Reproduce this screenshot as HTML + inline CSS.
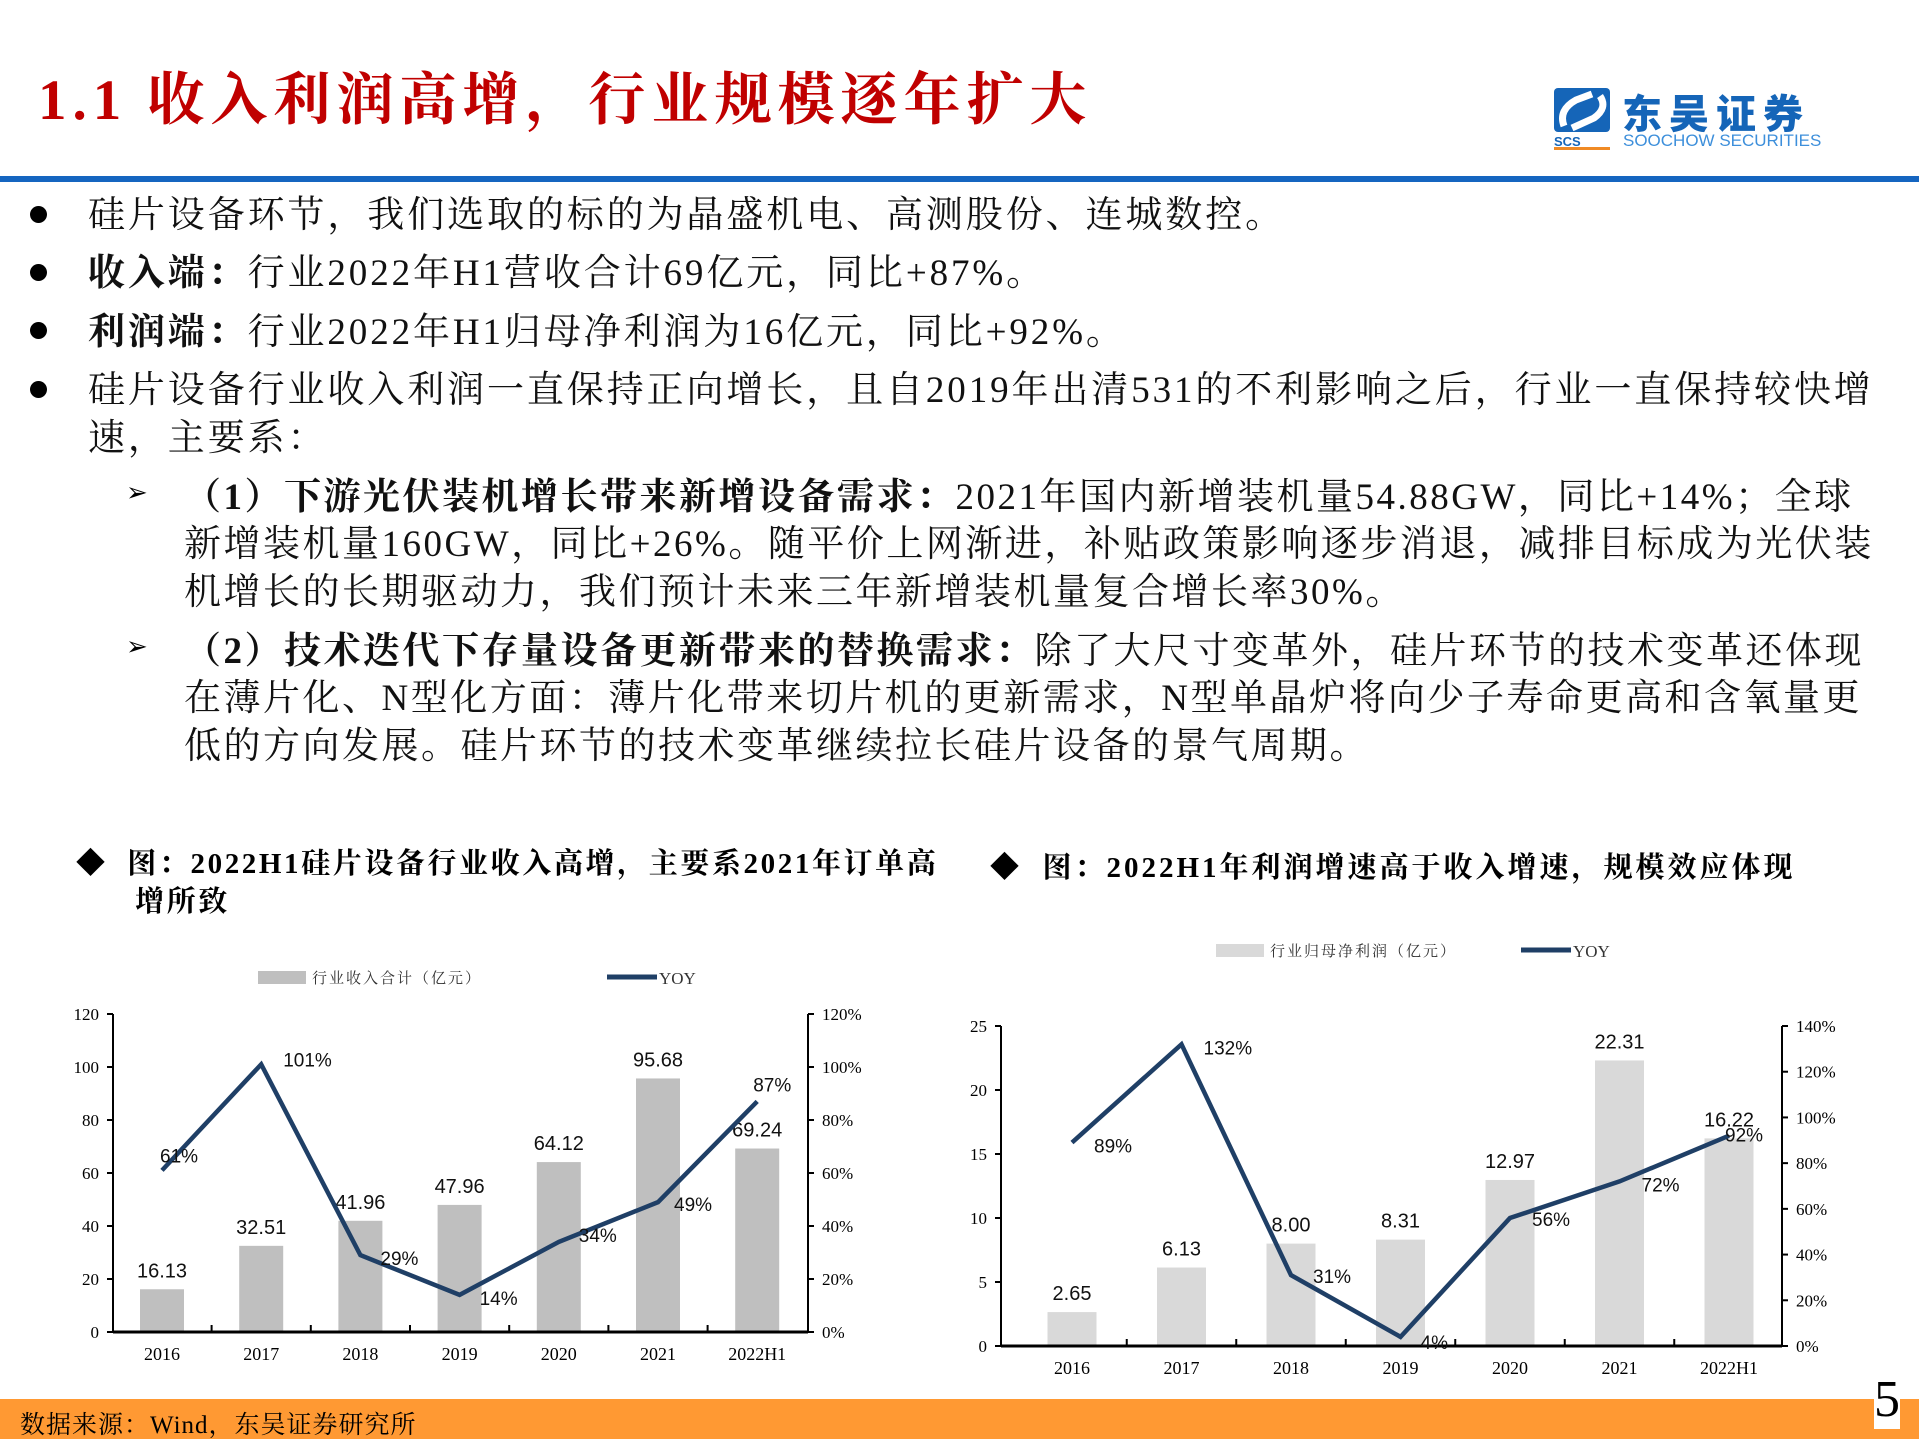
<!DOCTYPE html>
<html><head><meta charset="utf-8"><style>
body{margin:0;width:1919px;height:1439px;position:relative;background:#fff;overflow:hidden;font-family:"Liberation Serif","Noto Serif CJK SC",serif;}
.a{position:absolute;white-space:nowrap;}
.t{font-size:37px;color:#111;letter-spacing:2.9px;}
.s{letter-spacing:2.5px;}
.dot{position:absolute;width:17px;height:17px;border-radius:50%;background:#000;}
</style></head><body>
<div class="a" style="left:38px;top:54px;font-size:57px;font-weight:bold;color:#C00000;letter-spacing:6px;">1.1 收入利润高增，行业规模逐年扩大</div>
<div class="a" style="left:1554px;top:88px;width:270px;height:62px;">
 <svg width="60" height="62" style="position:absolute;left:0;top:0"><rect x="0" y="0" width="56" height="44" rx="4" fill="#1565B8"/><path d="M10 38 Q4 22 22 12 L38 6 M18 40 L40 30 Q54 20 46 8" stroke="#fff" stroke-width="7" fill="none"/><text x="0" y="58" font-family="Liberation Sans" font-weight="bold" font-size="13" fill="#1565B8">SCS</text><rect x="0" y="59" width="56" height="3" fill="#F08A24"/></svg>
 <div class="a" style="left:68px;top:-6px;font-family:'Liberation Sans','Noto Sans CJK SC',sans-serif;font-weight:900;font-size:40px;color:#1565B8;letter-spacing:7px;">东吴证券</div>
 <div class="a" style="left:69px;top:43px;font-family:'Liberation Sans',sans-serif;font-size:17px;color:#3D8FDB;">SOOCHOW SECURITIES</div>
</div>
<div class="a" style="left:0;top:176px;width:1919px;height:6px;background:#1565C0;"></div>

<div class="dot" style="left:30px;top:206px"></div>
<div class="a t" style="left:88px;top:184px;">硅片设备环节，我们选取的标的为晶盛机电、高测股份、连城数控。</div>
<div class="dot" style="left:30px;top:264px"></div>
<div class="a t" style="left:88px;top:242px;"><b>收入端：</b>行业2022年H1营收合计69亿元，同比+87%。</div>
<div class="dot" style="left:30px;top:322px"></div>
<div class="a t" style="left:88px;top:301px;"><b>利润端：</b>行业2022年H1归母净利润为16亿元，同比+92%。</div>
<div class="dot" style="left:30px;top:381px"></div>
<div class="a t" style="left:88px;top:359px;">硅片设备行业收入利润一直保持正向增长，且自2019年出清531的不利影响之后，行业一直保持较快增</div>
<div class="a t" style="left:88px;top:407px;">速，主要系：</div>
<div class="a" style="left:126px;top:478px;font-size:26px;">➢</div>
<div class="a t s" style="left:184px;top:466px;"><b>（1）下游光伏装机增长带来新增设备需求：</b>2021年国内新增装机量54.88GW，同比+14%；全球</div>
<div class="a t s" style="left:184px;top:513px;">新增装机量160GW，同比+26%。随平价上网渐进，补贴政策影响逐步消退，减排目标成为光伏装</div>
<div class="a t s" style="left:184px;top:561px;">机增长的长期驱动力，我们预计未来三年新增装机量复合增长率30%。</div>
<div class="a" style="left:126px;top:632px;font-size:26px;">➢</div>
<div class="a t s" style="left:184px;top:620px;"><b>（2）技术迭代下存量设备更新带来的替换需求：</b>除了大尺寸变革外，硅片环节的技术变革还体现</div>
<div class="a t s" style="left:184px;top:667px;">在薄片化、N型化方面：薄片化带来切片机的更新需求，N型单晶炉将向少子寿命更高和含氧量更</div>
<div class="a t s" style="left:184px;top:715px;">低的方向发展。硅片环节的技术变革继续拉长硅片设备的景气周期。</div>

<div class="a" style="left:76px;top:845px;font-size:29px;font-weight:bold;line-height:38px;letter-spacing:2.6px;">◆&nbsp;&nbsp;图：2022H1硅片设备行业收入高增，主要系2021年订单高<br>&nbsp;&nbsp;&nbsp;&nbsp;&nbsp;&nbsp;增所致</div>
<div class="a" style="left:990px;top:845px;font-size:29px;font-weight:bold;letter-spacing:3px;">◆&nbsp;&nbsp;图：2022H1年利润增速高于收入增速，规模效应体现</div>

<svg id="c1" class="a" style="left:0;top:940px" width="960" height="420"></svg>
<svg id="c2" class="a" style="left:960px;top:920px" width="959" height="480"></svg>

<div class="a" style="left:0;top:1399px;width:1919px;height:40px;background:#FF9933;"></div>
<div class="a" style="left:20px;top:1405px;font-size:25px;letter-spacing:1px;">数据来源：Wind，东吴证券研究所</div>
<div class="a" style="left:1874px;top:1370px;font-size:52px;background:#fff;">5</div>

<script>
const cats = ["2016","2017","2018","2019","2020","2021","2022H1"];
const revenue = [16.13,32.51,41.96,47.96,64.12,95.68,69.24];
const revenueYoy = [61,101,29,14,34,49,87];
const revTicksL = [0,20,40,60,80,100,120];
const revTicksR = [0,20,40,60,80,100,120];
const profit = [2.65,6.13,8.00,8.31,12.97,22.31,16.22];
const profitYoy = [89,132,31,4,56,72,92];
const proTicksL = [0,5,10,15,20,25];
const proTicksR = [0,20,40,60,80,100,120,140];
const NS="http://www.w3.org/2000/svg";
function el(svg,tag,at,txt){const e=document.createElementNS(NS,tag);for(const k in at)e.setAttribute(k,at[k]);if(txt!==undefined)e.textContent=txt;svg.appendChild(e);return e;}
function chart(id,o){
 const s=document.getElementById(id);
 const yL=v=>o.y0-(v/o.maxL)*(o.y0-o.yTop);
 const yR=v=>o.y0-(v/o.maxR)*(o.y0-o.yTop);
 const step=o.step;
 const cx=i=>o.c0+step*i;
 let r=el(s,'rect',{x:o.lg[0],y:o.lg[1]-6,width:48,height:13,fill:o.bar});
 
 el(s,'text',{x:o.lg[0]+54,y:o.lg[1]+6,'font-size':15,'letter-spacing':2,'font-family':'Liberation Serif,Noto Serif CJK SC,serif',fill:'#333'},o.lgText);
 el(s,'line',{x1:o.lg[2],x2:o.lg[2]+50,y1:o.lg[1],y2:o.lg[1],stroke:'#1F3F66','stroke-width':5});
 el(s,'text',{x:o.lg[2]+52,y:o.lg[1]+7,'font-size':17,'font-family':'Liberation Serif,serif',fill:'#333'},'YOY');
 o.vals.forEach((v,i)=>{
  const b=el(s,'rect',{x:cx(i)-o.bw/2,y:yL(v),width:o.bw,height:o.y0-yL(v),fill:o.bar});
  
  el(s,'text',{x:cx(i),y:yL(v)-12,'text-anchor':'middle','font-size':20,'font-family':'Liberation Sans,sans-serif',fill:'#111'},v.toFixed(2));
 });
 el(s,'line',{x1:o.xL,x2:o.xL,y1:o.yTop,y2:o.y0,stroke:'#000','stroke-width':2});
 el(s,'line',{x1:o.xR,x2:o.xR,y1:o.yTop,y2:o.y0,stroke:'#000','stroke-width':2});
 el(s,'line',{x1:o.xL,x2:o.xR,y1:o.y0,y2:o.y0,stroke:'#000','stroke-width':3});
 o.tl.forEach(t=>{el(s,'line',{x1:o.xL-6,x2:o.xL,y1:yL(t),y2:yL(t),stroke:'#000','stroke-width':2});
  el(s,'text',{x:o.xL-14,y:yL(t)+6,'text-anchor':'end','font-size':17,'font-family':'Liberation Serif,serif'},t);});
 o.tr.forEach(t=>{el(s,'line',{x1:o.xR,x2:o.xR+6,y1:yR(t),y2:yR(t),stroke:'#000','stroke-width':2});
  el(s,'text',{x:o.xR+14,y:yR(t)+6,'font-size':17,'font-family':'Liberation Serif,serif'},t+'%');});
 for(let i=1;i<cats.length;i++)el(s,'line',{x1:cx(i)-step/2,x2:cx(i)-step/2,y1:o.y0,y2:o.y0-7,stroke:'#000','stroke-width':2});
 cats.forEach((c,i)=>el(s,'text',{x:cx(i),y:o.y0+28,'text-anchor':'middle','font-size':18,'font-family':'Liberation Serif,serif'},c));
 const p=el(s,'polyline',{points:o.yoy.map((v,i)=>cx(i)+','+yR(v)).join(' '),fill:'none',stroke:'#1F3F66','stroke-width':4.5,'stroke-linejoin':'miter'});
 
 o.yoy.forEach((v,i)=>el(s,'text',{x:cx(i)+o.off[i][0],y:yR(v)+o.off[i][1],'font-size':19,'font-family':'Liberation Sans,sans-serif',fill:'#111'},v+'%'));
}
chart('c1',{xL:113,xR:808,c0:162,step:99.2,y0:392,yTop:74,maxL:120,maxR:120,bw:44,bar:'#BFBFBF',vals:revenue,yoy:revenueYoy,tl:revTicksL,tr:revTicksR,
 lg:[258,37,607],lgText:'行业收入合计（亿元）',off:[[-2,-8],[22,2],[20,10],[20,10],[20,0],[16,9],[-4,-10]]});
chart('c2',{xL:41,xR:822,c0:112,step:109.5,y0:426,yTop:106,maxL:25,maxR:140,bw:49,bar:'#D9D9D9',vals:profit,yoy:profitYoy,tl:proTicksL,tr:proTicksR,
 lg:[256,30,561],lgText:'行业归母净利润（亿元）',off:[[22,10],[22,10],[22,8],[20,12],[22,8],[22,10],[-4,6]]});
</script>
</body></html>
